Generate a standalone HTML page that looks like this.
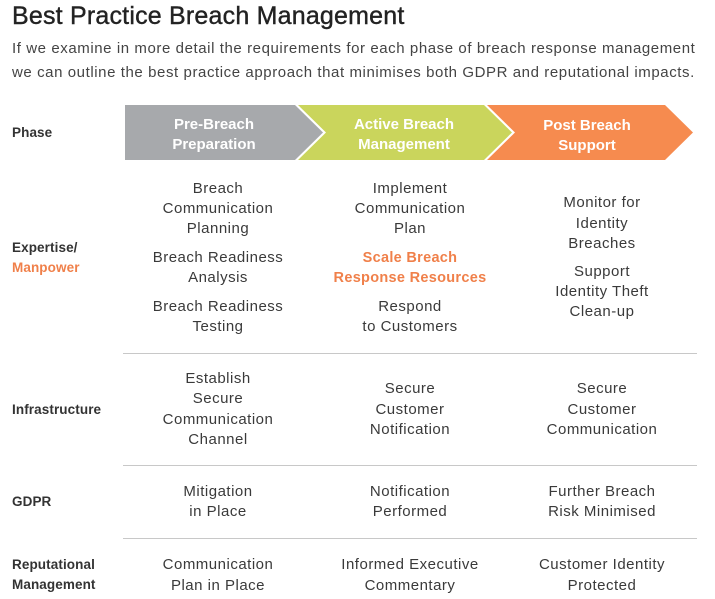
<!DOCTYPE html>
<html><head><meta charset="utf-8"><style>
body{margin:0;width:715px;height:599px;background:#fff;position:relative;overflow:hidden;font-family:"Liberation Sans",sans-serif;color:#333}
.t{position:absolute;white-space:nowrap;line-height:20px}
.c{position:absolute;white-space:nowrap;line-height:20px;font-size:15px;letter-spacing:0.5px;transform:translateX(-50%);text-align:center;color:#3a3a3a}
.l{position:absolute;font-size:13.5px;font-weight:bold;line-height:20px;color:#333;letter-spacing:0.1px}
.o{color:#f0804a}
.hr{position:absolute;left:123px;width:574px;height:1px;background:#c8c8c8}
</style></head><body>
<div class="t" style="left:12px;top:1px;font-size:25px;line-height:30px;color:#222;letter-spacing:0.2px;-webkit-text-stroke:0.4px #222">Best Practice Breach Management</div>
<div class="t" style="left:12px;top:37px;font-size:15px;line-height:24px;color:#444;letter-spacing:0.58px">If we examine in more detail the requirements for each phase of breach response management<br>we can outline the best practice approach that minimises both GDPR and reputational impacts.</div>
<svg style="position:absolute;left:0;top:0" width="715" height="200">
<polygon points="125,105 295,105 323,132.5 295,160 125,160" fill="#a7a9ac"/>
<polygon points="298,105 484,105 512,132.5 484,160 298,160 326,132.5" fill="#cad55c"/>
<polygon points="487,105 665,105 693,132.5 665,160 487,160 515,132.5" fill="#f68b4f"/>
<g font-family="Liberation Sans" font-weight="bold" font-size="15" fill="#fff" text-anchor="middle">
<text x="214" y="129">Pre-Breach</text><text x="214" y="149">Preparation</text>
<text x="404" y="129">Active Breach</text><text x="404" y="149">Management</text>
<text x="587" y="130">Post Breach</text><text x="587" y="150">Support</text>
</g></svg>
<div class="l" style="left:12px;top:123px">Phase</div>
<div class="l" style="left:12px;top:238px">Expertise/<br><span class="o">Manpower</span></div>
<div class="l" style="left:12px;top:400px">Infrastructure</div>
<div class="l" style="left:12px;top:492px">GDPR</div>
<div class="l" style="left:12px;top:555px">Reputational<br>Management</div>

<div class="c" style="left:218px;top:179px">Breach<br>Communication<br>Planning</div>
<div class="c" style="left:218px;top:248px">Breach Readiness<br>Analysis</div>
<div class="c" style="left:218px;top:297px">Breach Readiness<br>Testing</div>
<div class="c" style="left:410px;top:179px">Implement<br>Communication<br>Plan</div>
<div class="c o" style="left:410px;top:248px;font-weight:bold;font-size:14.5px;letter-spacing:0.3px">Scale Breach<br>Response Resources</div>
<div class="c" style="left:410px;top:297px">Respond<br>to Customers</div>
<div class="c" style="left:602px;top:193px;line-height:20.5px">Monitor for<br>Identity<br>Breaches</div>
<div class="c" style="left:602px;top:262px">Support<br>Identity Theft<br>Clean-up</div>
<div class="hr" style="top:353px"></div>
<div class="c" style="left:218px;top:369px;line-height:20.3px">Establish<br>Secure<br>Communication<br>Channel</div>
<div class="c" style="left:410px;top:379px;line-height:20.5px">Secure<br>Customer<br>Notification</div>
<div class="c" style="left:602px;top:379px;line-height:20.5px">Secure<br>Customer<br>Communication</div>
<div class="hr" style="top:465px"></div>
<div class="c" style="left:218px;top:482px">Mitigation<br>in Place</div>
<div class="c" style="left:410px;top:482px">Notification<br>Performed</div>
<div class="c" style="left:602px;top:482px">Further Breach<br>Risk Minimised</div>
<div class="hr" style="top:538px"></div>
<div class="c" style="left:218px;top:554px;line-height:21px">Communication<br>Plan in Place</div>
<div class="c" style="left:410px;top:554px;line-height:21px">Informed Executive<br>Commentary</div>
<div class="c" style="left:602px;top:554px;line-height:21px">Customer Identity<br>Protected</div>
</body></html>
